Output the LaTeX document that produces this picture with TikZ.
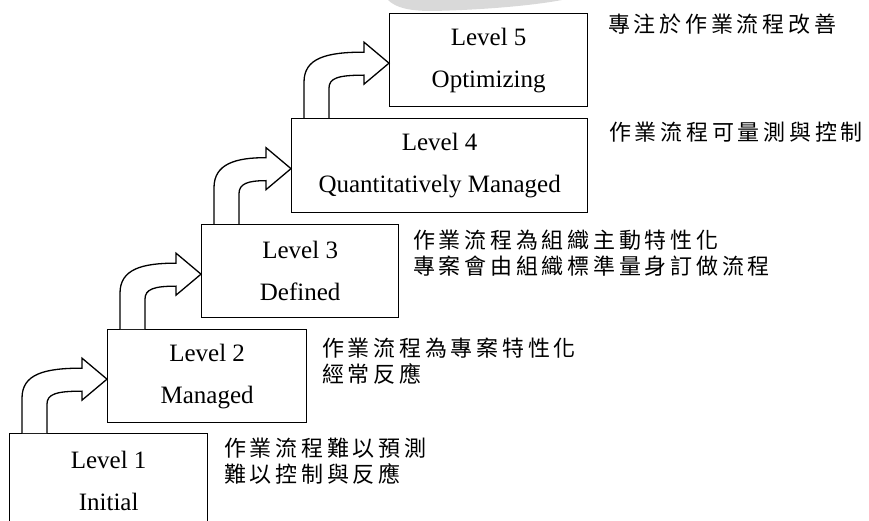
\documentclass[tikz,border=0pt]{standalone}
\usepackage{fontspec}
\setmainfont{Liberation Serif}
\newfontfamily\cjk[LetterSpace=17]{Noto Sans CJK TC}
\usetikzlibrary{calc}
\definecolor{cmmgray}{RGB}{217,217,217}

\begin{document}
\begin{tikzpicture}[
    x=1pt, y=-1pt,
    level/.style={
        rectangle,
        draw=black,
        line width=1.3pt,
        fill=white,
        minimum width=198pt,
        minimum height=93pt,
        inner sep=0pt,
        align=center,
        anchor=north west,
        font=\fontsize{25}{42}\selectfont
    },
    desc/.style={
        anchor=west,
        align=left,
        inner sep=0pt,
        font=\cjk\fontsize{22}{26}\selectfont
    },
    stairarrow/.style={
        draw=black,
        line width=1.3pt,
        fill=white,
        line join=miter
    }
]

% Page area
\clip (0,0) rectangle (869,521);

% Faint shape at the top
\fill[cmmgray] (388,0) .. controls (396,8) and (410,11) .. (432,11) .. controls (480,10) and (530,6) .. (562,0) -- cycle;

% Levels
\node[level, minimum height=94pt] (level1) at (9,433) {Level 1\\Initial};
\node[level, minimum width=199pt] (level2) at (107,329) {Level 2\\Managed};
\node[level, minimum width=197pt] (level3) at (201,224) {Level 3\\Defined};
\node[level, minimum width=296pt, minimum height=94pt] (level4) at (291,118) {Level 4\\Quantitatively Managed};
\node[level] (level5) at (389,13) {Level 5\\Optimizing};

% Descriptions
\node[desc] (desc1) at (224,461) {作業流程難以預測\\難以控制與反應};
\node[desc] (desc2) at (322,361) {作業流程為專案特性化\\經常反應};
\node[desc] (desc3) at (413,253) {作業流程為組織主動特性化\\專案會由組織標準量身訂做流程};
\node[desc] (desc4) at (609,132) {作業流程可量測與控制};
\node[desc] (desc5) at (608,24) {專注於作業流程改善};

% Bent arrows between levels
\foreach \lo/\up in {level1/level2, level2/level3, level3/level4, level4/level5} {
    \draw[stairarrow] let \p1=($(\lo.north west)+(13,0)$), \p2=($(\up.west)+(0,3)$) in
        (\x1,\y1) -- (\x1,\y2-19pt)
        .. controls (\x1,\y2+5pt) and (\x1+22pt,\y2+11pt) .. (\x2-25pt,\y2+11pt)
        -- (\x2-25pt,\y2+21pt) -- (\x2,\y2) -- (\x2-25pt,\y2-21pt) -- (\x2-25pt,\y2-12pt)
        .. controls (\x1+34pt,\y2-12pt) and (\x1+25pt,\y2-15pt) .. (\x1+25pt,\y2-25pt)
        -- (\x1+25pt,\y1);
}

\end{tikzpicture}
\end{document}
